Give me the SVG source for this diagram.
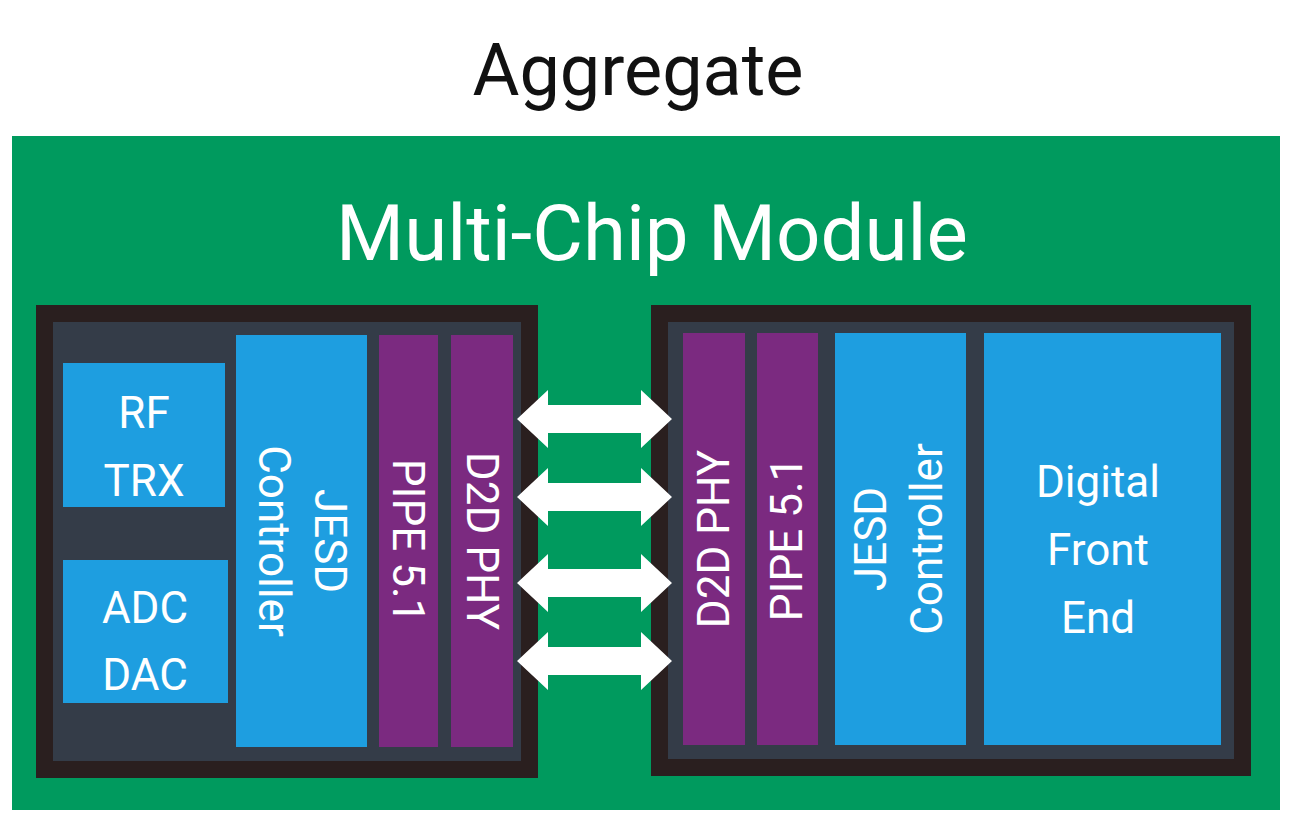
<svg xmlns="http://www.w3.org/2000/svg" width="1296" height="830" viewBox="0 0 1296 830">
<defs><style>
text{font-family:Roboto,"Liberation Sans",sans-serif;fill:#fff;text-anchor:middle}
.outer{fill:#2a1f1f}.inner{fill:#343c48}.blue{fill:#1e9ee0}.purple{fill:#7b2a80}
.t{font-size:44px}
</style>
<path id="arr" d="M517,419 L548,390 L548,405 L641,405 L641,390 L672,419 L641,448 L641,433 L548,433 L548,448 Z" fill="#fff"/>
</defs>
<rect width="1296" height="830" fill="#fff"/>
<text x="638" y="95" style="font-size:72px;fill:#111">Aggregate</text>
<rect x="12" y="136" width="1268" height="674" fill="#009a5e"/>
<text x="652" y="260" style="font-size:78px">Multi-Chip Module</text>
<g id="chip-left">
<rect class="outer" x="36" y="305" width="502" height="473"/>
<rect class="inner" x="53" y="322" width="468" height="439"/>
</g>
<g id="chip-right">
<rect class="outer" x="651" y="305" width="600" height="471"/>
<rect class="inner" x="668" y="322" width="566" height="437"/>
</g>
<g id="rf-trx"><rect class="blue" x="63" y="363" width="162" height="144"/><text class="t" x="144" y="428">RF</text><text class="t" x="144" y="496">TRX</text></g>
<g id="adc-dac"><rect class="blue" x="63" y="560" width="165" height="143"/><text class="t" x="145" y="623">ADC</text><text class="t" x="145" y="690">DAC</text></g>
<g id="jesd-left"><rect class="blue" x="236" y="335" width="131" height="412"/><text class="t" transform="translate(301,541) rotate(90)"><tspan x="0" y="-14">JESD</tspan><tspan x="0" y="42">Controller</tspan></text></g>
<g id="pipe-left"><rect class="purple" x="379" y="335" width="59" height="412"/><text class="t" transform="translate(408,541) rotate(90)" y="15">PIPE 5.1</text></g>
<g id="d2d-left"><rect class="purple" x="451" y="335" width="62" height="412"/><text class="t" transform="translate(482,541) rotate(90)" y="15">D2D PHY</text></g>
<g id="d2d-right"><rect class="purple" x="683" y="333" width="62" height="412"/><text class="t" transform="translate(714,539) rotate(-90)" y="15">D2D PHY</text></g>
<g id="pipe-right"><rect class="purple" x="757" y="333" width="61" height="412"/><text class="t" transform="translate(787,539) rotate(-90)" y="15">PIPE 5.1</text></g>
<g id="jesd-right"><rect class="blue" x="835" y="333" width="131" height="412"/><text class="t" transform="translate(900,539) rotate(-90)"><tspan x="0" y="-14">JESD</tspan><tspan x="0" y="42">Controller</tspan></text></g>
<g id="dfe"><rect class="blue" x="984" y="333" width="237" height="412"/><text class="t" x="1098" y="497">Digital</text><text class="t" x="1098" y="565">Front</text><text class="t" x="1098" y="633">End</text></g>
<g id="connectors">
<use href="#arr"/><use href="#arr" y="78"/><use href="#arr" y="164"/><use href="#arr" y="242"/>
</g>
</svg>
